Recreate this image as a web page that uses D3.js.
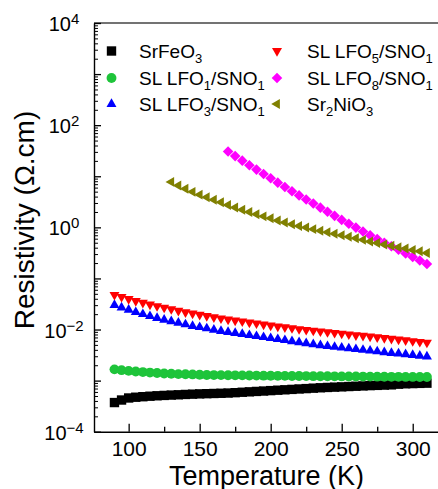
<!DOCTYPE html>
<html>
<head>
<meta charset="utf-8">
<script src="https://cdn.jsdelivr.net/npm/d3@7"></script>
<style>
  body { margin: 0; background: #fff; }
  svg { display: block; font-family: Arial, "Liberation Sans", sans-serif; }
</style>
</head>
<body>
<div id="plot"></div>
<script>
// temperatures (K)
const tempAll = [90,95,100,105,110,115,120,125,130,135,140,145,150,155,160,165,170,175,180,185,190,195,200,205,210,215,220,225,230,235,240,245,250,255,260,265,270,275,280,285,290,295,300,305,310];
const tempNi = [130,135,140,145,150,155,160,165,170,175,180,185,190,195,200,205,210,215,220,225,230,235,240,245,250,255,260,265,270,275,280,285,290,295,300,305,310];
const tempL8 = [170,175,180,185,190,195,200,205,210,215,220,225,230,235,240,245,250,255,260,265,270,275,280,285,290,295,300,305,310];

// resistivity (Ohm.cm)
const rhoSrFeO3 = [3.72e-4,4.17e-4,4.57e-4,4.73e-4,4.84e-4,4.95e-4,5.05e-4,5.13e-4,5.21e-4,5.28e-4,5.36e-4,5.43e-4,5.50e-4,5.55e-4,5.60e-4,5.65e-4,5.71e-4,5.81e-4,5.92e-4,6.03e-4,6.14e-4,6.25e-4,6.37e-4,6.49e-4,6.61e-4,6.73e-4,6.86e-4,6.98e-4,7.11e-4,7.24e-4,7.35e-4,7.45e-4,7.55e-4,7.66e-4,7.76e-4,7.87e-4,7.98e-4,8.07e-4,8.17e-4,8.26e-4,8.51e-4,8.67e-4,8.75e-4,8.83e-4,8.91e-4];
const rhoL1 = [1.66e-3,1.60e-3,1.55e-3,1.51e-3,1.47e-3,1.435e-3,1.41e-3,1.38e-3,1.36e-3,1.34e-3,1.33e-3,1.32e-3,1.30e-3,1.29e-3,1.285e-3,1.28e-3,1.275e-3,1.27e-3,1.265e-3,1.26e-3,1.255e-3,1.25e-3,1.245e-3,1.24e-3,1.237e-3,1.233e-3,1.23e-3,1.226e-3,1.222e-3,1.218e-3,1.215e-3,1.212e-3,1.208e-3,1.205e-3,1.202e-3,1.199e-3,1.196e-3,1.193e-3,1.19e-3,1.187e-3,1.185e-3,1.182e-3,1.18e-3,1.177e-3,1.175e-3];
const rhoL3 = [0.0302,0.0269,0.0243,0.0219,0.0200,0.0182,0.0168,0.0155,0.0145,0.0135,0.0126,0.0117,0.0111,0.0105,0.00989,0.00933,0.00891,0.00851,0.00813,0.00776,0.00741,0.00708,0.00676,0.00646,0.00617,0.00589,0.00562,0.00537,0.00513,0.00490,0.00473,0.00457,0.00442,0.00427,0.00412,0.00398,0.00385,0.00372,0.00359,0.00347,0.00339,0.00327,0.00316,0.00305,0.00295];
const rhoL5 = [0.0479,0.0437,0.0398,0.0363,0.0335,0.0309,0.0288,0.0269,0.0251,0.0234,0.0219,0.0207,0.0195,0.0184,0.0174,0.0166,0.0158,0.0151,0.0145,0.0138,0.0132,0.0126,0.0120,0.0115,0.0111,0.0107,0.0102,0.00989,0.00955,0.00923,0.00891,0.00861,0.00832,0.00804,0.00776,0.00759,0.00733,0.00708,0.00684,0.00661,0.00638,0.00617,0.00596,0.00575,0.00556];
const rhoL8 = [30.5,24.8,20.2,16.4,13.5,11.1,9.12,7.50,6.17,5.07,4.22,3.51,2.92,2.43,2.02,1.68,1.40,1.175,0.989,0.832,0.700,0.589,0.501,0.427,0.363,0.309,0.263,0.224,0.191];
const rhoSr2NiO3 = [7.76,6.61,5.69,4.95,4.37,3.89,3.47,3.09,2.75,2.45,2.21,2.00,1.80,1.64,1.50,1.36,1.245,1.148,1.059,0.989,0.923,0.861,0.804,0.750,0.700,0.653,0.610,0.569,0.531,0.495,0.462,0.437,0.407,0.385,0.359,0.339,0.316];

// tick labels
const xTicks = [100,150,200,250,300];
const xMinor = [125,175,225,275];
const yLabelExp = [4,2,0,-2,-4];

const W = 438, H = 489;
const plotLeft = 94, plotTop = 23, plotBottom = 431.7;

const svg = d3.select("#plot").append("svg")
    .attr("width", W)
    .attr("height", H);

const x = d3.scaleLinear().domain([75.6, 317.8]).range([plotLeft, W]);
const y = d3.scaleLog().domain([1e-4, 1e4]).range([plotBottom, plotTop]);

// shapes
const triUp = d3.symbol().type(d3.symbolTriangle).size(43)();
const sq = d3.symbol().type(d3.symbolSquare).size(88)();
const circ = d3.symbol().type(d3.symbolCircle).size(76)();
const diam = d3.symbol().type(d3.symbolSquare).size(56)();

const series = [
  { t: tempAll, v: rhoSrFeO3, color: "#000000", path: sq, rot: 0 },
  { t: tempAll, v: rhoL1, color: "#1ec43a", path: circ, rot: 0 },
  { t: tempAll, v: rhoL3, color: "#0000ff", path: triUp, rot: 0 },
  { t: tempAll, v: rhoL5, color: "#ff0000", path: triUp, rot: 180 },
  { t: tempL8, v: rhoL8, color: "#ff00ff", path: diam, rot: 45 },
  { t: tempNi, v: rhoSr2NiO3, color: "#808000", path: triUp, rot: -90 }
];

// frame top line
svg.append("line")
    .attr("x1", plotLeft).attr("x2", W)
    .attr("y1", plotTop).attr("y2", plotTop)
    .attr("stroke", "#444").attr("stroke-width", 1.5);

// data
series.forEach(s => {
  svg.append("g").selectAll("path")
    .data(s.t.map((t, i) => [t, s.v[i]]))
    .enter().append("path")
    .attr("d", s.path)
    .attr("fill", s.color)
    .attr("transform", d => `translate(${x(d[0])},${y(d[1])}) rotate(${s.rot})`);
});

// x axis
const xAxis = svg.append("g")
    .attr("transform", `translate(0,${plotBottom})`)
    .call(d3.axisBottom(x).tickValues(xTicks).tickSizeInner(-8).tickSizeOuter(0).tickPadding(9));
xAxis.attr("font-family", null).attr("font-size", 21);
xAxis.selectAll("text").attr("fill", "#000");
xAxis.select(".domain").attr("stroke-width", 1.4);
xAxis.selectAll(".tick line").attr("stroke-width", 1.3);

svg.append("g")
    .attr("transform", `translate(0,${plotBottom})`)
    .call(d3.axisBottom(x).tickValues(xMinor).tickSizeInner(-5).tickFormat(""))
    .call(g => g.select(".domain").remove())
    .selectAll(".tick line").attr("stroke-width", 1.3);

// y axis
const decades = d3.range(-4, 5).map(k => Math.pow(10, k));
const minors = [];
for (let k = -4; k < 4; k++) for (let m = 2; m <= 9; m++) minors.push(m * Math.pow(10, k));

const yAxis = svg.append("g")
    .attr("transform", `translate(${plotLeft},0)`)
    .call(d3.axisLeft(y).tickValues(decades).tickSizeInner(-7).tickSizeOuter(0).tickFormat(""));
yAxis.select(".domain").attr("stroke-width", 1.4);
yAxis.selectAll(".tick line").attr("stroke-width", 1.3);

svg.append("g")
    .attr("transform", `translate(${plotLeft},0)`)
    .call(d3.axisLeft(y).tickValues(minors).tickSizeInner(-4).tickFormat(""))
    .call(g => g.select(".domain").remove())
    .selectAll(".tick line").attr("stroke-width", 1);

// y tick labels with superscripts
yLabelExp.forEach(e => {
  const t = svg.append("text")
      .attr("x", 64)
      .attr("y", y(Math.pow(10, e)) + 8)
      .attr("text-anchor", "middle")
      .attr("font-size", 20);
  t.append("tspan").text("10");
  t.append("tspan").attr("dy", -7).attr("font-size", 15).text(e < 0 ? "\u2212" + (-e) : String(e));
});

// axis titles
svg.append("text")
    .attr("x", 266.5).attr("y", 484.5)
    .attr("text-anchor", "middle")
    .attr("font-size", 27)
    .text("Temperature (K)");

svg.append("text")
    .attr("transform", "translate(34,220) rotate(-90)")
    .attr("text-anchor", "middle")
    .attr("font-size", 28)
    .text("Resistivity (\u03A9.cm)");

// legend
const legend = [
  { parts: ["SrFeO", "3"], s: 0, col: 0, row: 0 },
  { parts: ["SL LFO", "1", "/SNO", "1"], s: 1, col: 0, row: 1 },
  { parts: ["SL LFO", "3", "/SNO", "1"], s: 2, col: 0, row: 2 },
  { parts: ["SL LFO", "5", "/SNO", "1"], s: 3, col: 1, row: 0 },
  { parts: ["SL LFO", "8", "/SNO", "1"], s: 4, col: 1, row: 1 },
  { parts: ["Sr", "2", "NiO", "3"], s: 5, col: 1, row: 2 }
];
const legMarkX = [111.5, 277], legTextX = [139, 307], legRowY = [51, 78, 104];

legend.forEach(l => {
  const s = series[l.s];
  const cy = legRowY[l.row];
  svg.append("path")
      .attr("d", s.path)
      .attr("fill", s.color)
      .attr("transform", `translate(${legMarkX[l.col]},${cy}) rotate(${s.rot})`);
  const t = svg.append("text")
      .attr("x", legTextX[l.col])
      .attr("y", cy + 6.5)
      .attr("font-size", 19);
  l.parts.forEach((p, i) => {
    const sub = i % 2 === 1;
    t.append("tspan")
        .attr("dy", i === 0 ? 0 : (sub ? 5 : -5))
        .attr("font-size", sub ? 13 : 19)
        .text(p);
  });
});
</script>
</body>
</html>
